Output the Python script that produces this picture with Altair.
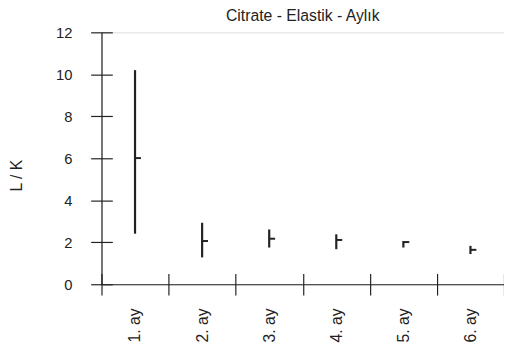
import altair as alt
import pandas as pd

months = ["1. ay", "2. ay", "3. ay", "4. ay", "5. ay", "6. ay"]
low = [2.41, 1.28, 1.75, 1.67, 1.75, 1.44]
high = [10.2, 2.93, 2.61, 2.38, 2.06, 1.83]
mean = [6.01, 2.06, 2.17, 2.11, 2.01, 1.64]

df = pd.DataFrame({"month": months, "low": low, "high": high, "mean": mean})

FONT = "Liberation Sans"
INK = "#222222"

xscale = alt.Scale(domain=months, paddingInner=0, paddingOuter=0)
yscale = alt.Scale(domain=[0, 12], nice=False, zero=True)

x_axis_a = alt.Axis(
    orient="bottom", offset=-11, tickSize=22, domain=False, tickBand="extent",
    labelAngle=270, labelAlign="right", labelBaseline="middle", labelPadding=13,
    labelFont=FONT, labelFontSize=16, labelColor=INK, tickColor=INK, tickWidth=1.2,
    title=None, grid=False,
)
x_axis_b = alt.Axis(
    orient="bottom", ticks=False, labels=False, domain=True, domainColor=INK,
    domainWidth=1.2, title=None, grid=False,
)
y_axis_a = alt.Axis(
    orient="left", offset=-11, tickSize=22, domain=False, values=[0, 2, 4, 6, 8, 10, 12],
    labelPadding=19, labelFont=FONT, labelFontSize=15, labelColor=INK,
    tickColor=INK, tickWidth=1.2, title=None, grid=False,
)
y_axis_b = alt.Axis(
    orient="left", ticks=False, labels=False, domain=True, domainColor=INK,
    domainWidth=1.2, grid=False, title="L / K", titleFont=FONT, titleFontSize=16,
    titleFontWeight="normal", titleColor=INK, titleAngle=270, titleX=-86, titleY=145,
    titleAlign="center", titleBaseline="middle",
)

rules = alt.Chart(df).mark_rule(color=INK, strokeWidth=2.2).encode(
    x=alt.X("month:N", scale=xscale, axis=x_axis_a, sort=months),
    y=alt.Y("low:Q", scale=yscale, axis=y_axis_a),
    y2="high:Q",
)

ticks = alt.Chart(df).mark_tick(
    color=INK, orient="horizontal", size=6, thickness=2, xOffset=3, opacity=1
).encode(
    x=alt.X("month:N", scale=xscale, axis=x_axis_b, sort=months),
    y=alt.Y("mean:Q", scale=yscale, axis=y_axis_b),
)

chart = (
    alt.layer(rules, ticks)
    .resolve_axis(x="independent", y="independent")
    .properties(
        width=409,
        height=256,
        autosize=alt.AutoSizeParams(type="none"),
        padding={"left": 95, "top": 22, "right": 0, "bottom": 60},
        title=alt.TitleParams(
            "Citrate - Elastik - Aylık", font=FONT, fontSize=16, fontWeight="normal",
            color=INK, anchor="middle", offset=2,
        ),
    )
    .configure_view(stroke=None)
    .configure(background="white")
)

chart.save("out.html", embed_options={"renderer": "svg", "actions": False})
